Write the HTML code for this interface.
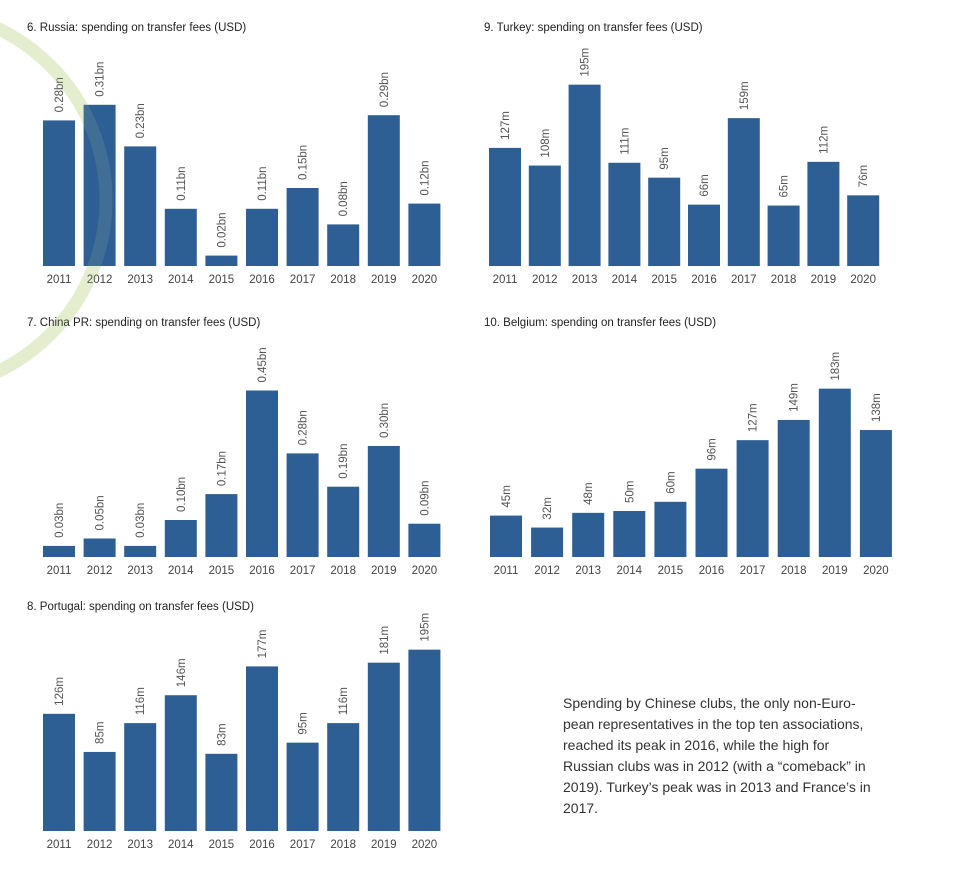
<!DOCTYPE html>
<html><head><meta charset="utf-8">
<style>
body{margin:0;background:#fff;width:962px;height:892px;overflow:hidden;position:relative;font-family:"Liberation Sans",sans-serif;}
svg{position:absolute;left:0;top:0}
#note{position:absolute;left:563px;top:693px;width:340px;font-size:14px;line-height:21px;color:#333;}
</style></head>
<body>
<svg id="chart" width="962" height="892"></svg>
<div id="note">Spending by Chinese clubs, the only non-Euro-<br>pean representatives in the top ten associations,<br>reached its peak in 2016, while the high for<br>Russian clubs was in 2012 (with a “comeback” in<br>2019). Turkey’s peak was in 2013 and France’s in<br>2017.</div>
<script>
const years = ["2011","2012","2013","2014","2015","2016","2017","2018","2019","2020"];
const russiaValues = [0.28,0.31,0.23,0.11,0.02,0.11,0.15,0.08,0.29,0.12];
const russiaLabels = ["0.28bn","0.31bn","0.23bn","0.11bn","0.02bn","0.11bn","0.15bn","0.08bn","0.29bn","0.12bn"];
const turkeyValues = [127,108,195,111,95,66,159,65,112,76];
const turkeyLabels = ["127m","108m","195m","111m","95m","66m","159m","65m","112m","76m"];
const chinaValues = [0.03,0.05,0.03,0.10,0.17,0.45,0.28,0.19,0.30,0.09];
const chinaLabels = ["0.03bn","0.05bn","0.03bn","0.10bn","0.17bn","0.45bn","0.28bn","0.19bn","0.30bn","0.09bn"];
const belgiumValues = [45,32,48,50,60,96,127,149,183,138];
const belgiumLabels = ["45m","32m","48m","50m","60m","96m","127m","149m","183m","138m"];
const portugalValues = [126,85,116,146,83,177,95,116,181,195];
const portugalLabels = ["126m","85m","116m","146m","83m","177m","95m","116m","181m","195m"];

const NS="http://www.w3.org/2000/svg";
const svg=document.getElementById('chart');
function mk(tag,attrs,parent){const e=document.createElementNS(NS,tag);for(const k in attrs)e.setAttribute(k,attrs[k]);(parent||svg).appendChild(e);return e;}

const arc=mk('circle',{cx:-84,cy:200,r:190,fill:'none',stroke:'#e9f1d6','stroke-width':'13'});



function drawChart(key,title,vals,labels,x0,pitch,base,scale,titleX,titleY){
  const g=mk('g',{});
  
  
  const t=mk('text',{x:titleX,y:titleY,'font-size':'11.5','fill':'#222'},g);
  t.textContent=title;
  
  
  const xs=i=>x0+i*pitch;
  const ys=v=>base-v*scale;
  vals.forEach((v,i)=>{
    const r=mk('rect',{x:xs(i),y:ys(v),width:32,height:base-ys(v),fill:'#2e5f94'},g);
    
    
    const cx=xs(i)+16, ty=ys(v)-8;
    const lb=mk('text',{x:cx+4,y:ty,'font-size':'11.5','fill':'#555',transform:`rotate(-90 ${cx+4} ${ty})`},g);
    lb.textContent=labels[i];
    
    
    const yr=mk('text',{x:cx,y:base+17,'font-size':'11.5','fill':'#444','text-anchor':'middle'},g);
    yr.textContent=years[i];
    
    
  });
}
drawChart('russia','6. Russia: spending on transfer fees (USD)',russiaValues,russiaLabels,43,40.6,266,520,27,31);
drawChart('turkey','9. Turkey: spending on transfer fees (USD)',turkeyValues,turkeyLabels,489,39.8,266,0.93,484,31);
drawChart('china','7. China PR: spending on transfer fees (USD)',chinaValues,chinaLabels,43,40.6,557,370,27,326);
drawChart('belgium','10. Belgium: spending on transfer fees (USD)',belgiumValues,belgiumLabels,490,41.1,557,0.92,484,326);
drawChart('portugal','8. Portugal: spending on transfer fees (USD)',portugalValues,portugalLabels,43,40.6,831,0.93,27,610);
const arcOver=mk('circle',{cx:-84,cy:200,r:190,fill:'none',stroke:'rgba(200,225,150,0.12)','stroke-width':'13'});


</script>
</body></html>
